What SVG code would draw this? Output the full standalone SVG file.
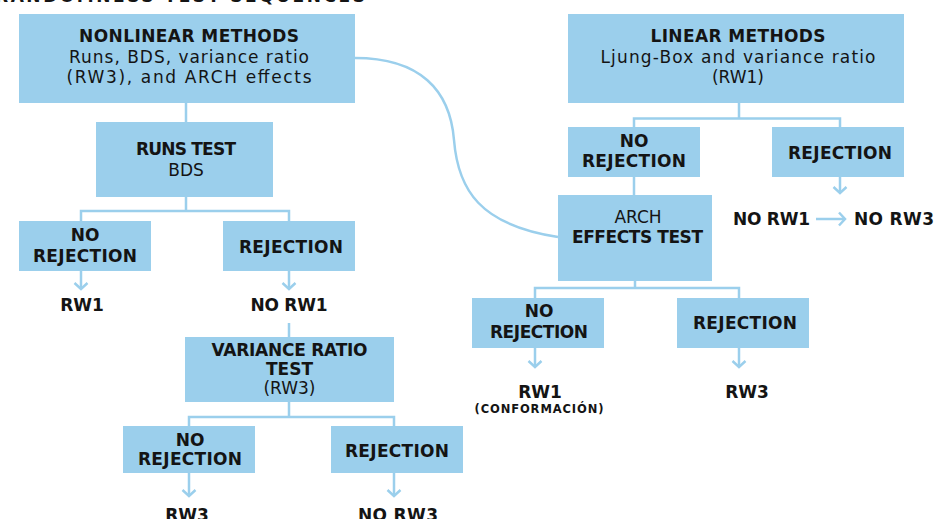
<svg xmlns="http://www.w3.org/2000/svg" width="937" height="519" viewBox="0 0 937 519">
<style>
.box{fill:#9BCFEC}
.ln{fill:none;stroke:#9BCFEC;stroke-width:2.5}
.b{font-family:"DejaVu Sans","Liberation Sans",sans-serif;font-weight:bold;font-size:17px;fill:#141414;text-anchor:middle}
.r{font-family:"DejaVu Sans","Liberation Sans",sans-serif;font-size:17px;fill:#141414;text-anchor:middle}
.s{font-size:11.5px}
</style>
<defs>
<marker id="ah" markerUnits="userSpaceOnUse" markerWidth="16" markerHeight="16" refX="8" refY="8" orient="auto">
<polyline points="2,1.5 8,8 2,14.5" fill="none" stroke="#9BCFEC" stroke-width="2.5"/>
</marker>
</defs>
<rect width="937" height="519" fill="#fff"/>
<text class="b" x="180" y="2" font-size="18" textLength="370">RANDOMNESS TEST SEQUENCES</text>

<g id="connectors">
<path class="ln" d="M355,58 C420,58 450,90 454,140 C458,190 480,225 558,237"/>
<path class="ln" d="M186,103 V122"/>
<path class="ln" d="M186,197 V211 M81,221 V211 H289 V221"/>
<path class="ln" d="M81,271 V289" marker-end="url(#ah)"/>
<path class="ln" d="M289,271 V289" marker-end="url(#ah)"/>
<path class="ln" d="M289,323 V337"/>
<path class="ln" d="M289,402 V417 M189,426 V417 H394 V426"/>
<path class="ln" d="M189,473 V496" marker-end="url(#ah)"/>
<path class="ln" d="M394,473 V496" marker-end="url(#ah)"/>
<path class="ln" d="M739,103 V118.5 M634,127 V118.5 H840 V127"/>
<path class="ln" d="M634,176 V195"/>
<path class="ln" d="M840,176 V193" marker-end="url(#ah)"/>
<path class="ln" d="M816,219 H845" marker-end="url(#ah)"/>
<path class="ln" d="M635,281 V288 M535,298 V288 H739 V298"/>
<path class="ln" d="M535,348 V367" marker-end="url(#ah)"/>
<path class="ln" d="M739,348 V367" marker-end="url(#ah)"/>
</g>

<g id="nonlinear">
<rect class="box" x="19" y="14" width="336" height="89"/>
<text class="b" x="189" y="42" textLength="220">NONLINEAR METHODS</text>
<text class="r" x="189" y="63" textLength="240">Runs, BDS, variance ratio</text>
<text class="r" x="189" y="83" textLength="245">(RW3), and ARCH effects</text>
</g>
<g id="runs">
<rect class="box" x="96" y="122" width="177" height="75"/>
<text class="b" x="186" y="155" textLength="100">RUNS TEST</text>
<text class="r" x="186" y="176">BDS</text>
</g>
<g id="runs-norej">
<rect class="box" x="19" y="221" width="132" height="50"/>
<text class="b" x="85" y="241">NO</text>
<text class="b" x="85" y="262" textLength="104">REJECTION</text>
</g>
<g id="runs-rej">
<rect class="box" x="223" y="221" width="132" height="50"/>
<text class="b" x="291" y="253" textLength="104">REJECTION</text>
</g>
<g id="rw1-a"><text class="b" x="82" y="311">RW1</text></g>
<g id="norw1-a"><text class="b" x="289" y="311" textLength="77">NO RW1</text></g>
<g id="variance">
<rect class="box" x="185" y="337" width="209" height="65"/>
<text class="b" x="289.5" y="356" textLength="156">VARIANCE RATIO</text>
<text class="b" x="289.5" y="375">TEST</text>
<text class="r" x="289.5" y="394">(RW3)</text>
</g>
<g id="var-norej">
<rect class="box" x="123" y="426" width="132" height="47"/>
<text class="b" x="190" y="446">NO</text>
<text class="b" x="190" y="465" textLength="104">REJECTION</text>
</g>
<g id="var-rej">
<rect class="box" x="331" y="426" width="132" height="47"/>
<text class="b" x="397" y="457" textLength="104">REJECTION</text>
</g>
<g id="rw3-a"><text class="b" x="187" y="521">RW3</text></g>
<g id="norw3-a"><text class="b" x="398" y="521" textLength="80">NO RW3</text></g>

<g id="linear">
<rect class="box" x="568" y="14" width="336" height="89"/>
<text class="b" x="738" y="42" textLength="175">LINEAR METHODS</text>
<text class="r" x="738" y="63" textLength="275">Ljung-Box and variance ratio</text>
<text class="r" x="738" y="83">(RW1)</text>
</g>
<g id="lin-norej">
<rect class="box" x="568" y="127" width="132" height="50"/>
<text class="b" x="634" y="147">NO</text>
<text class="b" x="634" y="167" textLength="104">REJECTION</text>
</g>
<g id="lin-rej">
<rect class="box" x="772" y="127" width="132" height="50"/>
<text class="b" x="840" y="159" textLength="104">REJECTION</text>
</g>
<g id="norw1-b"><text class="b" x="771.5" y="225" textLength="77">NO RW1</text></g>
<g id="norw3-b"><text class="b" x="894" y="225" textLength="80">NO RW3</text></g>
<g id="arch">
<rect class="box" x="558" y="195" width="154" height="86"/>
<text class="r" x="638" y="223">ARCH</text>
<text class="b" x="637.5" y="243" textLength="131">EFFECTS TEST</text>
</g>
<g id="arch-norej">
<rect class="box" x="472" y="298" width="132" height="50"/>
<text class="b" x="539" y="317">NO</text>
<text class="b" x="539" y="338" textLength="98">REJECTION</text>
</g>
<g id="arch-rej">
<rect class="box" x="677" y="298" width="132" height="50"/>
<text class="b" x="745" y="329" textLength="104">REJECTION</text>
</g>
<g id="rw1-b">
<text class="b" x="540" y="398">RW1</text>
<text class="b s" x="539" y="413" textLength="129">(CONFORMACIÓN)</text>
</g>
<g id="rw3-b"><text class="b" x="747" y="398">RW3</text></g>
</svg>
